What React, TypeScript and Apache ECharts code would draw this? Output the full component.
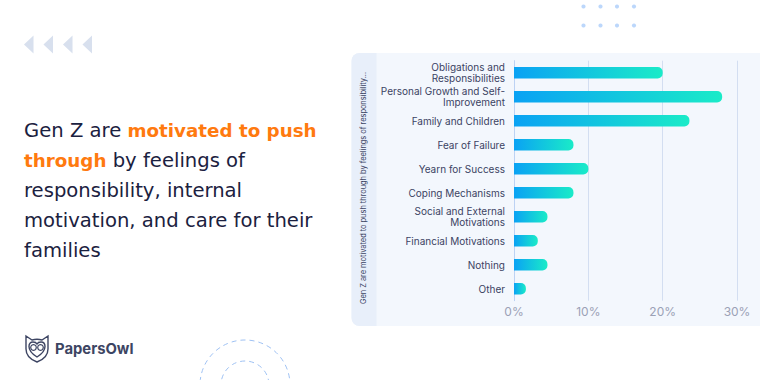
import React, { useEffect, useRef } from "react";
import * as echarts from "echarts";

// Survey answers (share of respondents, %)
const categories: string[] = [
  "Obligations and\nResponsibilities",
  "Personal Growth and Self-\nImprovement",
  "Family and Children",
  "Fear of Failure",
  "Yearn for Success",
  "Coping Mechanisms",
  "Social and External\nMotivations",
  "Financial Motivations",
  "Nothing",
  "Other",
];
const shares: number[] = [20, 28, 23.6, 8, 10, 8, 4.5, 3.2, 4.5, 1.6];
const xTicks: number[] = [0, 10, 20, 30];

const axisTitle = "Gen Z are motivated to push through by feelings of responsibility...";

// Headline, each line split into plain / highlighted runs
const headline: [string, boolean][][] = [
  [["Gen Z are ", false], ["motivated to push", true]],
  [["through", true], [" by feelings of", false]],
  [["responsibility, internal", false]],
  [["motivation, and care for their", false]],
  [["families", false]],
];

const FONT = "Inter, 'Open Sans', sans-serif";
const HEAD_FONT = "'DejaVu Sans', Inter, sans-serif";
const INK = "#1b2140";
const ORANGE = "#ff7a0f";

const OWL_OUTLINE =
  "M2,1 L8,5 Q13,3.5 18,5 L24,1 L24,14 Q24,23 13,27 Q2,23 2,14 Z " +
  "M13,22 Q5,17 5,11.5 Q5,7 9,7 Q12,7 13,9 Q14,7 17,7 Q21,7 21,11.5 Q21,17 13,22 Z";
echarts.graphic.registerShape("owlBadge", echarts.graphic.extendPath(OWL_OUTLINE, {}) as any);

export default function App() {
  const ref = useRef<HTMLDivElement>(null);

  useEffect(() => {
    if (!ref.current) return;
    const chart = echarts.init(ref.current, undefined, { renderer: "svg" });

    const headlineTexts = headline.map((line, i) => ({
      type: "text",
      x: 24,
      y: 130 + i * 30,
      style: {
        text: line.map(([t, hi]) => `{${hi ? "o" : "n"}|${t}}`).join(""),
        verticalAlign: "middle",
        rich: {
          n: { fontSize: 19.6, fontFamily: HEAD_FONT, fill: INK, fontWeight: 400, lineHeight: 24 },
          o: { fontSize: 18.3, fontFamily: HEAD_FONT, fill: ORANGE, fontWeight: 700, lineHeight: 24 },
        },
      },
    }));

    const chevrons = [0, 1, 2, 3].map((i) => ({
      type: "polygon",
      shape: {
        points: [
          [24 + i * 19.5, 44.5],
          [33.5 + i * 19.5, 35.5],
          [33.5 + i * 19.5, 53.5],
        ],
      },
      style: { fill: "#d8e0ee" },
    }));

    const dots: any[] = [];
    [6.5, 25.5].forEach((y) =>
      [583.5, 600.5, 617, 634].forEach((x) =>
        dots.push({ type: "circle", shape: { cx: x, cy: y, r: 2.1 }, style: { fill: "#bcd7fb" } })
      )
    );

    chart.setOption({
      animation: false,
      backgroundColor: "#ffffff",
      graphic: [
        // chart panel
        {
          type: "rect",
          shape: { x: 351.5, y: 53, width: 430, height: 273, r: 8 },
          style: { fill: "#f3f7fd" },
          z: -10,
        },
        {
          type: "rect",
          shape: { x: 351.5, y: 53, width: 25, height: 273, r: [8, 0, 0, 8] },
          style: { fill: "#e8effa" },
          z: -9,
        },
        {
          type: "text",
          x: 363,
          y: 188,
          rotation: Math.PI / 2,
          style: {
            text: axisTitle,
            fontSize: 7.4,
            fontFamily: FONT,
            fill: "#3b4363",
            align: "center",
            verticalAlign: "middle",
          },
        },
        ...chevrons,
        ...dots,
        ...headlineTexts,
        // decorative dashed rings
        {
          type: "circle",
          shape: { cx: 245, cy: 385, r: 45 },
          style: { fill: "none", stroke: "#9fc2f4", lineWidth: 1, lineDash: [5, 4] },
        },
        {
          type: "circle",
          shape: { cx: 245, cy: 385, r: 24 },
          style: { fill: "none", stroke: "#9fc2f4", lineWidth: 1, lineDash: [5, 4] },
        },
        // logo
        {
          type: "owlBadge",
          x: 24,
          y: 335,
          style: { fill: "none", stroke: "#3d4563", lineWidth: 1.4 },
        },
        {
          type: "circle",
          shape: { cx: 33.5, cy: 347.5, r: 2.8 },
          style: { fill: "none", stroke: "#3d4563", lineWidth: 1.2 },
        },
        {
          type: "circle",
          shape: { cx: 40.5, cy: 347.5, r: 2.8 },
          style: { fill: "none", stroke: "#3d4563", lineWidth: 1.2 },
        },
        {
          type: "text",
          x: 55,
          y: 349,
          style: {
            text: "PapersOwl",
            fontSize: 14.8,
            fontWeight: 700,
            fontFamily: FONT,
            fill: "#3d4563",
            verticalAlign: "middle",
          },
        },
      ],
      grid: { left: 514, top: 60.7, width: 223, height: 240, containLabel: false },
      xAxis: {
        type: "value",
        min: xTicks[0],
        max: xTicks[xTicks.length - 1],
        interval: xTicks[1] - xTicks[0],
        axisLine: { show: false },
        axisTick: { show: false },
        splitLine: { lineStyle: { color: "#d3def1", width: 1 } },
        axisLabel: {
          formatter: "{value}%",
          color: "#9ba1b6",
          fontSize: 12,
          fontFamily: FONT,
          margin: 5,
        },
      },
      yAxis: {
        type: "category",
        inverse: true,
        data: categories,
        axisLine: { show: true, lineStyle: { color: "#bcd2f4", width: 1 } },
        axisTick: { show: false },
        axisLabel: {
          color: "#3b4363",
          fontSize: 10,
          fontFamily: FONT,
          lineHeight: 11.5,
          margin: 9,
          align: "right",
        },
      },
      series: [
        {
          type: "bar",
          data: shares,
          barWidth: 11.5,
          itemStyle: {
            borderRadius: [0, 5, 5, 0],
            color: new echarts.graphic.LinearGradient(0, 0, 1, 0, [
              { offset: 0, color: "#0aa2f4" },
              { offset: 1, color: "#1aebc8" },
            ]),
          },
        },
      ],
    });

    return () => chart.dispose();
  }, []);

  return (
    <div
      ref={ref}
      style={{ position: "fixed", left: 0, top: 0, width: 760, height: 380 }}
    />
  );
}
